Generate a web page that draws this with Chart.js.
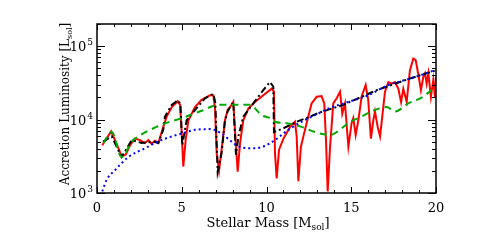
<!DOCTYPE html>
<html>
<head>
<meta charset="utf-8">
<script src="https://cdn.jsdelivr.net/npm/chart.js@4"></script>
<style>
  html, body { margin: 0; padding: 0; background: #fff; }
  canvas { display: block; }
</style>
</head>
<body>
<canvas id="lumChart" width="485" height="242"></canvas>
<script>
// values (mass in Msol, luminosity in Lsol)
const redMass = [0.31, 0.83, 1.06, 1.46, 1.69, 1.95, 2.24, 2.54, 2.83, 3.03, 3.22, 3.42, 3.62, 3.91, 4.11, 4.41, 4.76, 4.90,
  5.00, 5.09, 5.23, 5.39, 5.78, 6.17, 6.67, 6.86, 6.96, 7.06, 7.20, 7.35, 7.55, 7.71, 7.94, 8.04, 8.14, 8.30, 8.44, 8.63,
  8.93, 9.32, 9.81, 10.30, 10.44, 10.50, 10.60, 10.74, 11.00, 11.39, 11.68, 11.78, 11.88, 12.03, 12.27, 12.66, 12.96,
  13.25, 13.41, 13.51, 13.61, 13.75, 13.94, 14.14, 14.34, 14.47, 14.63, 14.83, 15.02, 15.12, 15.26, 15.42, 15.61, 15.85,
  16.00, 16.16, 16.30, 16.40, 16.56, 16.70, 16.83, 16.99, 17.19, 17.38, 17.58, 17.78, 17.94, 18.07, 18.27, 18.46, 18.66,
  18.80, 18.96, 19.11, 19.25, 19.35, 19.45, 19.55, 19.70, 19.84, 19.94, 20.0];
const redLum = [4470, 6900, 5250, 3160, 3310, 4470, 5500, 5250, 4790, 5250, 4680, 5130, 4790, 7940, 10960, 14790, 17780, 15850,
  6460, 2290, 5250, 9770, 14790, 18620, 21380, 21380, 14790, 3470, 2000, 3890, 9770, 13490, 15850, 17400, 7240, 1950, 4790, 9770,
  14130, 17380, 21380, 26300, 23990, 3470, 1585, 3890, 5500, 7940, 9330, 5890, 1445, 4270, 7240, 16600, 20420,
  20890, 16600, 5250, 1050, 4270, 16600, 19500, 23990, 12020, 16600, 4270, 8910, 10470, 6170, 9770, 20420, 29510,
  18620, 5500, 9770, 12880, 7940, 5890, 10960, 23990, 32360, 30900, 32360, 26300, 17380, 26300, 17380, 46770, 67600,
  64570, 40740, 25120, 38020, 42660, 30900, 42660, 20420, 34670, 20420, 38000];

const blackMass = [0.35, 0.87, 1.45, 2.05, 2.64, 3.33, 3.62, 3.91, 4.01, 4.41, 4.76, 4.92, 5.03, 5.29, 5.78, 6.37, 6.86, 6.98,
  7.12, 7.35, 7.55, 7.71, 8.04, 8.20, 8.35, 8.63, 9.22, 9.81, 10.20, 10.40, 10.44, 10.99, 11.78, 12.57, 13.06, 14.53, 16.50,
  18.47, 20.0];
const blackLum = [5010, 5890, 3090, 5250, 4790, 5010, 4790, 7240, 10960, 15850, 18200, 16600, 4470, 9770, 13490, 19500, 22390, 17000,
  1950, 3470, 9770, 13000, 17380, 3310, 6000, 10960, 16600, 25120, 32360, 28180, 6760, 7590, 9330, 10960, 12300, 15850, 25120,
  36310, 46770];

const greenMass = [0.37, 0.87, 1.45, 2.05, 2.24, 3.82, 5.00, 6.17, 7.16, 8.14, 9.03, 9.71, 10.20, 10.50, 11.19, 12.07, 12.86,
  13.75, 14.43, 14.93, 15.42, 16.40, 17.09, 17.58, 18.36, 19.15, 20.0];
const greenLum = [4790, 6760, 3090, 5010, 5500, 8510, 10470, 13180, 15850, 15850, 15850, 11480, 10470, 9330, 8910, 7940, 6760,
  6170, 7590, 9330, 10470, 13490, 14790, 12880, 16600, 19950, 28180];

const blueMass = [0.31, 0.57, 1.06, 1.85, 2.83, 3.80, 5.00, 5.78, 6.67, 7.35, 7.94, 8.53, 9.32, 9.90, 10.50, 11.29, 12.07,
  12.86, 13.65, 14.83, 16.00, 17.19, 18.36, 19.55, 20.0];
const blueLum = [1050, 1510, 2040, 3090, 4070, 5250, 6460, 7240, 7410, 6460, 5010, 4170, 4070, 4370, 5250, 7240, 9330,
  11480, 14130, 17380, 21380, 29510, 35480, 43650, 47860];

const xTickLabels = ['0', '5', '10', '15', '20'];
const yDecades = [1000, 10000, 100000];
const yTickExps = ['3', '4', '5'];

function pts(xs, ys) {
  return xs.map((x, i) => ({ x: x, y: ys[i] }));
}

const FONT = '"DejaVu Serif", serif';

// frame, inward ticks, labels and titles in the IDL look
const idlAxes = {
  id: 'idlAxes',
  afterDraw(chart) {
    const ctx = chart.ctx;
    const a = chart.chartArea;
    const xs = chart.scales.x, ys = chart.scales.y;
    ctx.save();
    ctx.strokeStyle = '#000';
    ctx.lineWidth = 1;
    ctx.beginPath();
    for (let i = 0; i <= 20; i++) {
      const px = Math.round(xs.getPixelForValue(i)) + 0.5;
      const len = i % 5 === 0 ? 6 : 3;
      ctx.moveTo(px, a.bottom); ctx.lineTo(px, a.bottom - len);
      ctx.moveTo(px, a.top); ctx.lineTo(px, a.top + len);
    }
    yDecades.forEach(d => {
      for (let k = 1; k <= 9; k++) {
        const v = d * k;
        if (v > ys.max) break;
        const py = Math.round(ys.getPixelForValue(v)) + 0.5;
        const len = k === 1 ? 8 : 4;
        ctx.moveTo(a.left, py); ctx.lineTo(a.left + len, py);
        ctx.moveTo(a.right, py); ctx.lineTo(a.right - len, py);
      }
    });
    ctx.stroke();

    ctx.lineWidth = 1.5;
    ctx.strokeRect(a.left, a.top, a.right - a.left, a.bottom - a.top);

    ctx.fillStyle = '#000';
    // x tick labels
    ctx.font = '13px ' + FONT;
    ctx.textAlign = 'center';
    ctx.textBaseline = 'alphabetic';
    xTickLabels.forEach(t => {
      ctx.fillText(t, xs.getPixelForValue(Number(t)), 212);
    });

    // y tick labels 10^n
    yDecades.forEach((d, i) => {
      const py = ys.getPixelForValue(d);
      ctx.font = '9px ' + FONT;
      const ew = ctx.measureText(yTickExps[i]).width;
      ctx.textAlign = 'left';
      ctx.fillText(yTickExps[i], a.left - 4 - ew, py - 1);
      ctx.font = '13px ' + FONT;
      ctx.textAlign = 'right';
      ctx.fillText('10', a.left - 5 - ew, py + 5);
    });

    // titles with subscripts
    function subTitle(main, sub, tail, cx, cy, size) {
      const big = size + 'px ' + FONT;
      const small = Math.round(size * 0.7) + 'px ' + FONT;
      ctx.font = big;
      const w1 = ctx.measureText(main).width;
      const w3 = ctx.measureText(tail).width;
      ctx.font = small;
      const w2 = ctx.measureText(sub).width;
      const x0 = cx - (w1 + w2 + w3) / 2;
      ctx.textAlign = 'left';
      ctx.font = big;
      ctx.fillText(main, x0, cy);
      ctx.font = small;
      ctx.fillText(sub, x0 + w1, cy + 3);
      ctx.font = big;
      ctx.fillText(tail, x0 + w1 + w2, cy);
    }
    subTitle('Stellar Mass [M', 'sol', ']', 268, 227, 13);
    ctx.save();
    ctx.translate(69, 104);
    ctx.rotate(-Math.PI / 2);
    subTitle('Accretion Luminosity [L', 'sol', ']', 0, 0, 12);
    ctx.restore();

    ctx.restore();
  }
};

const ctx = document.getElementById('lumChart').getContext('2d');
const lumChart = new Chart(ctx, {
  type: 'line',
  data: {
    datasets: [
      {
        label: 'red',
        data: pts(redMass, redLum),
        borderColor: '#ff0000',
        borderWidth: 2,
        order: 4
      },
      {
        label: 'black',
        data: pts(blackMass, blackLum),
        borderColor: '#000000',
        borderWidth: 2,
        borderDash: [7, 3, 2, 3],
        order: 3
      },
      {
        label: 'green',
        data: pts(greenMass, greenLum),
        borderColor: '#00a800',
        borderWidth: 2,
        borderDash: [7, 5],
        cubicInterpolationMode: 'monotone',
        order: 2
      },
      {
        label: 'blue',
        data: pts(blueMass, blueLum),
        borderColor: '#0000ff',
        borderWidth: 2,
        borderDash: [2, 3],
        cubicInterpolationMode: 'monotone',
        order: 1
      }
    ]
  },
  options: {
    responsive: false,
    animation: false,
    devicePixelRatio: 1,
    elements: { point: { radius: 0 }, line: { tension: 0, fill: false } },
    layout: { padding: { left: 0, right: 49, top: 24, bottom: 0 } },
    plugins: { legend: { display: false }, tooltip: { enabled: false } },
    scales: {
      x: {
        type: 'linear',
        min: 0,
        max: 20,
        grid: { display: false },
        border: { display: false },
        ticks: { display: false },
        afterFit: s => { s.height = 49; }
      },
      y: {
        type: 'logarithmic',
        min: 1000,
        max: 200000,
        grid: { display: false },
        border: { display: false },
        ticks: { display: false },
        afterFit: s => { s.width = 97; }
      }
    }
  },
  plugins: [idlAxes]
});
</script>
</body>
</html>
